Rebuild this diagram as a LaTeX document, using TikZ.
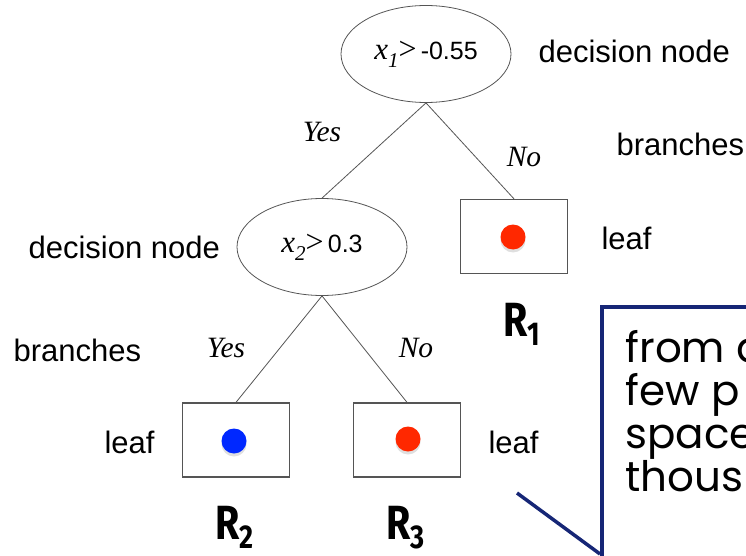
\documentclass[tikz,border=0pt]{standalone}
\usepackage{fontspec}
\setmainfont{Liberation Sans}
\newfontfamily\tms{Liberation Serif}
\newfontfamily\regfont[FakeStretch=0.82]{Fira Sans}
\newfontfamily\notefont{Poppins}
\usetikzlibrary{shapes.geometric,shadows}

\definecolor{edgegray}{RGB}{85,85,85}
\definecolor{dotred}{RGB}{255,40,0}
\definecolor{dotblue}{RGB}{0,40,255}
\definecolor{navy}{RGB}{22,38,118}

\newcommand{\cond}[2]{{\tms\itshape x\raisebox{-8pt}{\fontsize{21}{21}\selectfont #1}}{\tms\fontsize{32}{32}\selectfont >}{\rmfamily\fontsize{25}{25}\selectfont\,#2}}
\newcommand{\reg}[1]{R\raisebox{-9pt}{\fontsize{33}{33}\selectfont #1}}

\begin{document}
\begin{tikzpicture}[x=1pt,y=-1pt,every node/.style={font=\fontsize{31}{36}\selectfont},
  dnode/.style={ellipse, draw=edgegray, line width=0.8pt, minimum width=170pt, minimum height=97pt, inner sep=0pt, font=\tms\fontsize{31}{31}\selectfont},
  leafbox/.style={rectangle, draw=edgegray, line width=1.3pt, minimum width=107pt, minimum height=74pt},
  dotn/.style={circle, fill=#1, minimum size=25pt, inner sep=0pt, drop shadow={opacity=0.25, shadow xshift=0pt, shadow yshift=-3pt}},
  lbl/.style={anchor=base west},
  ans/.style={anchor=base, font=\tms\itshape\fontsize{29.5}{29.5}\selectfont},
  regn/.style={anchor=base west, font=\regfont\bfseries\fontsize{48}{48}\selectfont},
  notebox/.style={rectangle, draw=navy, line width=3.5pt, fill=white, anchor=north west, minimum width=220pt, minimum height=300pt}]
\useasboundingbox (0,0) rectangle (746,556);
\clip (0,0) rectangle (746,556);
% tree
\node (dec1) [dnode] at (426,54) {\cond{1}{-0.55}};
\node (dec2) [dnode] at (322,247) {\cond{2}{0.3}};
\node (leaf1) [leafbox] at (514,236.5) {};
\node (leaf2) [leafbox] at (236,440) {};
\node (leaf3) [leafbox] at (407,440) {};
\node (dot1) [dotn=dotred] at (513,237) {};
\node (dot2) [dotn=dotblue] at (234,441) {};
\node (dot3) [dotn=dotred] at (408,439) {};
\foreach \from/\to in {dec1.south/dec2.north,dec1.south/leaf1.north,dec2.south/leaf2.north,dec2.south/leaf3.north}
\draw[edgegray, line width=0.8pt] (\from) -- (\to);
\node (yes1) [ans] at (322,142) {Yes};
\node (no1) [ans] at (524,167) {No};
\node (yes2) [ans] at (226,357) {Yes};
\node (no2) [ans] at (416,357) {No};
% labels
\node (tdec1) [lbl] at (535,63) {decision node};
\node (tbr1) [lbl] at (613,156) {branches};
\node (tleaf1) [lbl] at (598,249) {leaf};
\node (tdec2) [lbl] at (25,258) {decision node};
\node (tbr2) [lbl] at (10,361) {branches};
\node (tleaf2) [lbl] at (101,453) {leaf};
\node (tleaf3) [lbl] at (485,453) {leaf};
\node (r1) [regn] at (500,336) {\reg{1}};
\node (r2) [regn] at (212,539) {\reg{2}};
\node (r3) [regn] at (383,539) {\reg{3}};
% callout
\node (note) [notebox] at (600,305) {};
\node (notetext) [anchor=base west, align=left, font=\notefont\fontsize{42}{43}\selectfont] at (622,491) {from a\\few p\\space\\thous};
\coordinate (tip) at (517,493);
\coordinate (tailend) at (600,554);
\draw[navy, line width=3.5pt] (tip) -- (tailend);
\end{tikzpicture}
\end{document}
